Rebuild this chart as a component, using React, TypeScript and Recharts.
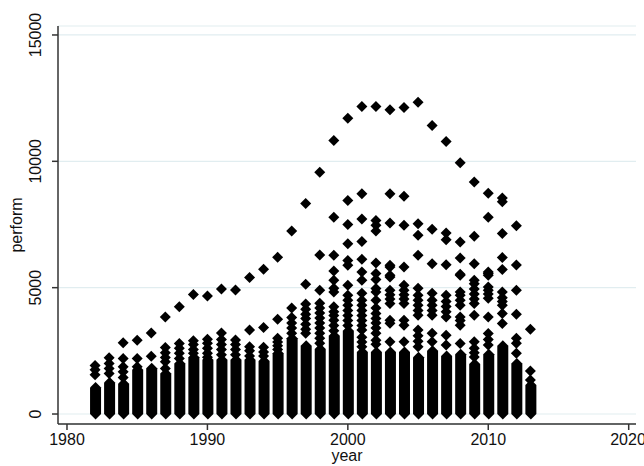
import { ComposedChart, Bar, Scatter, XAxis, YAxis, CartesianGrid } from "recharts"

document.body.style.margin = "0"

const years = [
  1982, 1983, 1984, 1985, 1986, 1987, 1988, 1989, 1990, 1991, 1992,
  1993, 1994, 1995, 1996, 1997, 1998, 1999, 2000, 2001, 2002, 2003,
  2004, 2005, 2006, 2007, 2008, 2009, 2010, 2011, 2012, 2013,
]

// top of the dense, overlapping stack of markers in each year
const solidTop = [
  1050, 1250, 1200, 1750, 1815, 1600, 2000, 2250, 2150, 2150, 2150,
  2150, 2100, 2400, 3000, 2700, 2570, 3100, 3300, 2450, 2450, 2450,
  2450, 2250, 2500, 2300, 2370, 1975, 2370, 2700, 2000, 1150,
]

// separate markers above the dense stack
const extraPoints: number[][] = [
  [1550, 1750, 1920],
  [1600, 1800, 2000, 2230],
  [1450, 1670, 1870, 2200, 2820],
  [1870, 2200, 2920],
  [2290, 3210],
  [1800, 2070, 2240, 2420, 2630, 3840],
  [2200, 2400, 2600, 2790, 4240],
  [2400, 2550, 2750, 2900, 4730],
  [2250, 2400, 2600, 2800, 2960, 4670],
  [2350, 2550, 2750, 2950, 3210, 4950],
  [2350, 2550, 2750, 2930, 4910],
  [2300, 2500, 2660, 3320, 5400],
  [2300, 2450, 2640, 3420, 5730],
  [2550, 2700, 2850, 3000, 3750, 6200],
  [3200, 3400, 3600, 3820, 4200, 7240],
  [3200, 3350, 3550, 3780, 3950, 4150, 4350, 5140, 8330],
  [2800, 3000, 3200, 3400, 3600, 3800, 4000, 4200, 4380, 4900, 6290, 9570],
  [3300, 3500, 3710, 3900, 4050, 4240, 4830, 4980, 5290, 5660, 6280, 7790, 10820],
  [3500, 3700, 3900, 4100, 4300, 4500, 4700, 5100, 5890, 6080, 6740, 7500, 8450, 11700],
  [2660, 2850, 3040, 3320, 3500, 3700, 3900, 4100, 4300, 4500, 4780, 5290, 5620, 6120, 6830, 7720, 8720, 12170],
  [2760, 2920, 3200, 3400, 3600, 3780, 3980, 4200, 4500, 4830, 4970, 5320, 5560, 5980, 7240, 7470, 7660, 12170],
  [2860, 3590, 3710, 4370, 4550, 4720, 4900, 5420, 5490, 5820, 5890, 7560, 8720, 12040],
  [2860, 3510, 3710, 4370, 4550, 4720, 4900, 5100, 5820, 7470, 8620, 12130],
  [2660, 2880, 3100, 3320, 3910, 4100, 4300, 4500, 4700, 4980, 6280, 7070, 7530, 12340],
  [2860, 3200, 3910, 4100, 4300, 4500, 4780, 5950, 7310, 11420],
  [2730, 3120, 3840, 4050, 4250, 4450, 4700, 5910, 6900, 7160, 10780],
  [2790, 3510, 3700, 3840, 4300, 4500, 4700, 4830, 5490, 5530, 6170, 6810, 9940],
  [2260, 2420, 2600, 2860, 3910, 4370, 4550, 4750, 4950, 5160, 5290, 5950, 7030, 9180],
  [2730, 2950, 3190, 3840, 4580, 4750, 4900, 5030, 5490, 5560, 5620, 7790, 8740],
  [3580, 3980, 4300, 4450, 4600, 4830, 5720, 6190, 7140, 8400, 8550],
  [2400, 2800, 3000, 3950, 4900, 5900, 7450],
  [1350, 1700, 3350],
]

const xTicks = [1980, 1990, 2000, 2010, 2020]
const yTicks = [0, 5000, 10000, 15000]

const columnData = years.map((year, i) => ({ year, solid: [0, solidTop[i]] }))
const pointData = years.flatMap((year, i) =>
  extraPoints[i].map((perform) => ({ year, perform }))
)

const FONT = "'Liberation Sans', Arial, sans-serif"
const FS = 16
const R = 5.5 // half size of a diamond marker

function Diamond(props: any) {
  const { cx, cy } = props
  if (cx == null || cy == null) return null
  return (
    <polygon
      points={`${cx},${cy - R} ${cx + R},${cy} ${cx},${cy + R} ${cx - R},${cy}`}
      fill="#000"
    />
  )
}

// dense run of diamonds drawn as one column with pointed ends
function Column(props: any) {
  const { x, y, width, height } = props
  if (x == null || height == null) return null
  const cx = x + width / 2
  const top = Math.min(y, y + height)
  const bot = Math.max(y, y + height)
  return (
    <polygon
      points={`${cx},${top - R} ${x + width},${top} ${x + width},${bot} ${cx},${bot + R} ${x},${bot} ${x},${top}`}
      fill="#000"
    />
  )
}

function YTick(props: any) {
  const { x, y, payload } = props
  return (
    <text
      x={x - 9}
      y={y}
      transform={`rotate(-90, ${x - 9}, ${y})`}
      textAnchor="middle"
      fontSize={FS}
      fontFamily={FONT}
      fill="#111"
    >
      {payload.value}
    </text>
  )
}

export default function App() {
  return (
    <ComposedChart
      width={644}
      height={466}
      data={columnData}
      margin={{ top: 26, right: 8, bottom: 10, left: 0 }}
      style={{ background: "#fff" }}
    >
      <CartesianGrid vertical={false} stroke="#e1edf0" strokeWidth={1.2} />
      <XAxis
        dataKey="year"
        type="number"
        domain={[1979.36, 2020.52]}
        ticks={xTicks}
        allowDataOverflow
        height={32}
        tickSize={6}
        tickMargin={4}
        stroke="#333"
        strokeWidth={1.5}
        tick={{ fontSize: FS, fontFamily: FONT, fill: "#111" }}
        label={({ viewBox }: any) => (
          <text
            x={viewBox.x + viewBox.width / 2}
            y={viewBox.y + 37}
            textAnchor="middle"
            fontSize={FS}
            fontFamily={FONT}
            fill="#111"
          >
            year
          </text>
        )}
      />
      <YAxis
        type="number"
        domain={[-395, 15355]}
        ticks={yTicks}
        allowDataOverflow
        width={58}
        tickSize={6}
        tickMargin={2}
        stroke="#333"
        strokeWidth={1.5}
        tick={<YTick />}
        label={({ viewBox }: any) => (
          <text
            x={18}
            y={viewBox.y + viewBox.height / 2}
            transform={`rotate(-90, 18, ${viewBox.y + viewBox.height / 2})`}
            textAnchor="middle"
            dominantBaseline="middle"
            fontSize={FS}
            fontFamily={FONT}
            fill="#111"
          >
            perform
          </text>
        )}
      />
      <Bar dataKey="solid" barSize={11} shape={<Column />} isAnimationActive={false} />
      <Scatter data={pointData} dataKey="perform" shape={<Diamond />} isAnimationActive={false} />
    </ComposedChart>
  )
}
